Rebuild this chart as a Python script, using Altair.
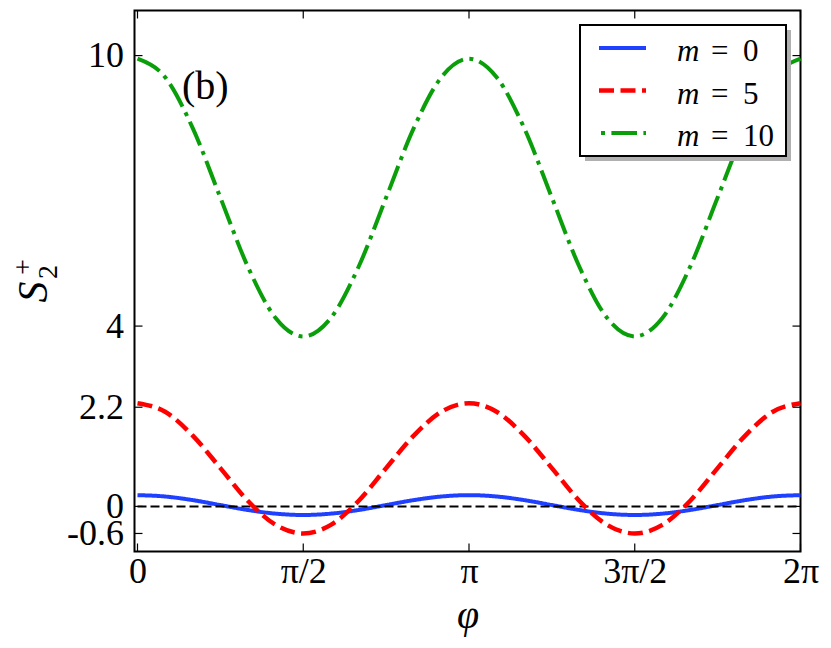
import altair as alt
import pandas as pd

# ---- data ----
phi = [0.0, 0.2618, 0.5236, 0.7854, 1.0472, 1.309, 1.5708, 1.8326, 2.0944,
       2.3562, 2.618, 2.8798, 3.1416, 3.4034, 3.6652, 3.927, 4.1888, 4.4506,
       4.7124, 4.9742, 5.236, 5.4978, 5.7596, 6.0214, 6.2832]
s_m0 = [0.25, 0.22, 0.14, 0.03, -0.08, -0.16, -0.19, -0.16, -0.08, 0.03, 0.14,
        0.22, 0.25, 0.22, 0.14, 0.03, -0.08, -0.16, -0.19, -0.16, -0.08, 0.03,
        0.14, 0.22, 0.25]
s_m5 = [2.29, 2.10, 1.57, 0.85, 0.12, -0.41, -0.60, -0.41, 0.12, 0.85, 1.57,
        2.10, 2.29, 2.10, 1.57, 0.85, 0.12, -0.41, -0.60, -0.41, 0.12, 0.85,
        1.57, 2.10, 2.29]
s_m10 = [9.93, 9.52, 8.39, 6.85, 5.31, 4.18, 3.77, 4.18, 5.31, 6.85, 8.39,
         9.52, 9.93, 9.52, 8.39, 6.85, 5.31, 4.18, 3.77, 4.18, 5.31, 6.85,
         8.39, 9.52, 9.93]
m_values = ["0", "5", "10"]
y_ticks = [-0.6, 0, 2.2, 4, 10]
y_tick_labels = ["-0.6", "0", "2.2", "4", "10"]
x_ticks = [0, 1.5708, 3.1416, 4.7124, 6.2832]
x_tick_labels = ["0", "π/2", "π", "3π/2", "2π"]
zero_line_x = [0, 6.2832]
zero_line_y = [0, 0]

# ---- styles ----
FONT = "Liberation Serif"
W, H = 666, 541
colors = ["#1f40ff", "#ff0000", "#0a9f0a"]
dashes = [[1, 0], [15, 6.5], [25.6, 6.4, 4, 6.4]]
widths = [4, 4.5, 4]

rows = []
for lab, vals in zip(m_values, [s_m0, s_m5, s_m10]):
    for p, v in zip(phi, vals):
        rows.append({"phi": p, "S": v, "m": lab})
df = pd.DataFrame(rows)
df_zero = pd.DataFrame({"phi": zero_line_x, "S": zero_line_y})
df_xt = pd.DataFrame({"phi": x_ticks})
df_yt = pd.DataFrame({"S": y_ticks})
one = pd.DataFrame({"a": [0]})

xscale = alt.Scale(domain=[-0.0284, 6.2832], nice=False, zero=False)
yscale = alt.Scale(domain=[-1, 11], nice=False, zero=False)

def arr(vals, quote):
    if quote:
        return "[" + ",".join("'" + v + "'" for v in vals) + "]"
    return "[" + ",".join(repr(v) for v in vals) + "]"

xaxis = alt.Axis(
    values=x_ticks,
    labelExpr=arr(x_tick_labels, True) + "[indexof(" + arr(x_ticks, False) + ", datum.value)]",
    domain=False, ticks=False, grid=False, labelFlush=False, labelOverlap=False,
    labelPadding=3, labelFont=FONT, labelFontSize=36, labelColor="black",
    title="φ", titleFont=FONT, titleFontSize=40, titleFontStyle="italic",
    titleFontWeight="normal", titleColor="black", titlePadding=6,
)
yaxis = alt.Axis(
    values=y_ticks,
    labelExpr=arr(y_tick_labels, True) + "[indexof(" + arr(y_ticks, False) + ", datum.value)]",
    domain=False, ticks=False, grid=False, labelFlush=False, labelOverlap=False,
    labelPadding=11, labelFont=FONT, labelFontSize=36, labelColor="black",
    title=None,
)

X = alt.X("phi:Q", scale=xscale, axis=xaxis)
Y = alt.Y("S:Q", scale=yscale, axis=yaxis)

layers = []
order = [0, None, 1, 2]  # blue, zero line, red, green
for idx in order:
    if idx is None:
        layers.append(
            alt.Chart(df_zero).mark_line(color="black", strokeWidth=2, strokeDash=[9, 4])
            .encode(x=X, y=Y)
        )
        continue
    lab = m_values[idx]
    layers.append(
        alt.Chart(df).transform_filter(alt.datum.m == lab)
        .mark_line(color=colors[idx], strokeWidth=widths[idx], strokeDash=dashes[idx],
                   interpolate="monotone")
        .encode(x=X, y=Y)
    )

# inward ticks on all four sides
TL = 8
tick_style = dict(color="black", strokeWidth=1.2)
layers.append(alt.Chart(df_yt).mark_rule(**tick_style).encode(
    y=Y, x=alt.value(0), x2=alt.value(TL)))
layers.append(alt.Chart(df_yt).mark_rule(**tick_style).encode(
    y=Y, x=alt.value(W - TL), x2=alt.value(W)))
layers.append(alt.Chart(df_xt).mark_rule(**tick_style).encode(
    x=X, y=alt.value(H - TL), y2=alt.value(H)))
layers.append(alt.Chart(df_xt).mark_rule(**tick_style).encode(
    x=X, y=alt.value(0), y2=alt.value(TL)))

# y-axis title  S_2^+ (rotated, reading upward)
layers.append(alt.Chart(one).mark_text(text="S", font=FONT, fontSize=42, fontStyle="italic",
                                       angle=270, align="center", baseline="middle", color="black")
              .encode(x=alt.value(-100.5), y=alt.value(281.5)))
layers.append(alt.Chart(one).mark_text(text="+", font=FONT, fontSize=28,
                                       angle=270, align="center", baseline="middle", color="black")
              .encode(x=alt.value(-110.5), y=alt.value(256.5)))
layers.append(alt.Chart(one).mark_text(text="2", font=FONT, fontSize=28,
                                       angle=270, align="center", baseline="middle", color="black")
              .encode(x=alt.value(-85.5), y=alt.value(261.5)))

# panel tag
layers.append(alt.Chart(one).mark_text(text="(b)", font=FONT, fontSize=40, align="left",
                                       baseline="middle", color="black")
              .encode(x=alt.value(47.5), y=alt.value(76.5)))

# legend box with shadow
bx0, bx1, by0, by1 = 445.5, 651.5, 14.5, 145.5
layers.append(alt.Chart(one).mark_rect(fill="#b0b0b0").encode(
    x=alt.value(bx0 + 5), x2=alt.value(bx1 + 5), y=alt.value(by0 + 5), y2=alt.value(by1 + 5)))
layers.append(alt.Chart(one).mark_rect(fill="white", stroke="black", strokeWidth=2).encode(
    x=alt.value(bx0), x2=alt.value(bx1), y=alt.value(by0), y2=alt.value(by1)))
dash_offsets = [0, 0, 30]
for i, lab in enumerate(m_values):
    ry = 37.5 + 42.5 * i
    layers.append(alt.Chart(one).mark_rule(color=colors[i], strokeWidth=widths[i],
                                           strokeDash=dashes[i], strokeDashOffset=dash_offsets[i])
                  .encode(x=alt.value(464.5), x2=alt.value(511.5), y=alt.value(ry)))
    layers.append(alt.Chart(one).mark_text(text="m", font=FONT, fontSize=31, fontStyle="italic",
                                           align="left", baseline="alphabetic", color="black")
                  .encode(x=alt.value(542.5), y=alt.value(ry + 13)))
    layers.append(alt.Chart(one).mark_text(text="=", font=FONT, fontSize=31,
                                           align="left", baseline="alphabetic", color="black")
                  .encode(x=alt.value(576.5), y=alt.value(ry + 13)))
    layers.append(alt.Chart(one).mark_text(text=lab, font=FONT, fontSize=31,
                                           align="left", baseline="alphabetic", color="black")
                  .encode(x=alt.value(608.5), y=alt.value(ry + 13)))

chart = alt.layer(*layers).properties(
    width=W, height=H,
    background="white",
    padding={"left": 126.5, "top": 2.5, "right": 22, "bottom": 88},
    autosize=alt.AutoSizeParams(type="none"),
).configure_view(stroke="black", strokeWidth=2)

chart.save("out.html", embed_options={"renderer": "svg", "actions": False})
